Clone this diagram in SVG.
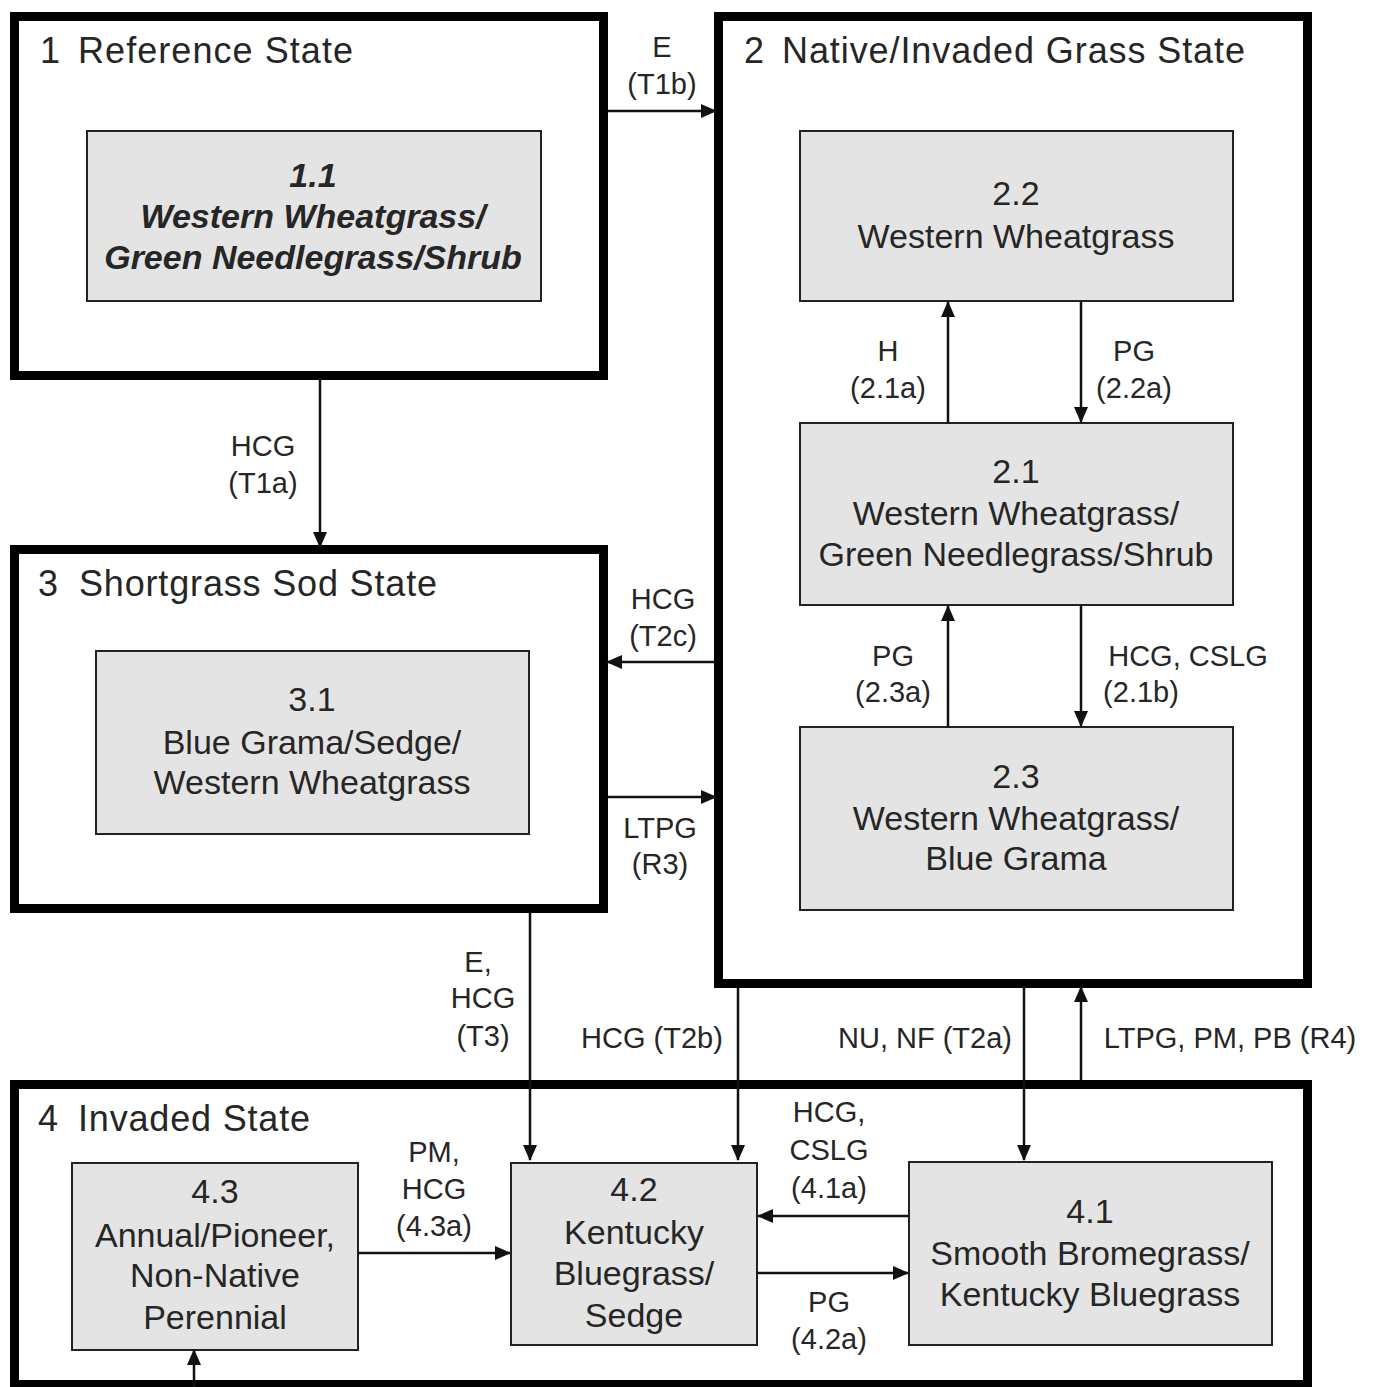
<svg xmlns="http://www.w3.org/2000/svg" width="1380" height="1387" viewBox="0 0 1380 1387">
<style>
.state{fill:#ffffff;stroke:#000;stroke-width:9}
.node{fill:#e4e4e4;stroke:#222;stroke-width:2}
.t{font-family:"Liberation Sans",Arial,sans-serif;fill:#262626}
.title{font-size:36px}
.nt{font-size:34px;text-anchor:middle}
.bi{font-weight:bold;font-style:italic}
.lb{font-size:29px;text-anchor:middle}
.c{fill:none;stroke:#111;stroke-width:2.5}
</style>
<defs>
<marker id="ah" markerUnits="userSpaceOnUse" markerWidth="16" markerHeight="14" refX="15" refY="7" orient="auto">
<path d="M0,0 L16,7 L0,14 Z" fill="#111"/>
</marker>
</defs>
<rect width="1380" height="1387" fill="#fff"/>

<g id="state1">
<rect class="state" x="14.5" y="16.5" width="589" height="359"/>
<text class="t title" x="40" y="63">1</text>
<text class="t title" x="78" y="63" textLength="275" lengthAdjust="spacing">Reference State</text>
</g>
<g id="state2">
<rect class="state" x="718.5" y="16.5" width="589" height="967"/>
<text class="t title" x="744" y="63">2</text>
<text class="t title" x="782" y="63" textLength="463" lengthAdjust="spacing">Native/Invaded Grass State</text>
</g>
<g id="state3">
<rect class="state" x="14.5" y="549.5" width="589" height="359"/>
<text class="t title" x="38" y="596">3</text>
<text class="t title" x="79" y="596" textLength="358" lengthAdjust="spacing">Shortgrass Sod State</text>
</g>
<g id="state4">
<rect class="state" x="14.5" y="1084.5" width="1293" height="300"/>
<text class="t title" x="38" y="1131">4</text>
<text class="t title" x="78" y="1131" textLength="232" lengthAdjust="spacing">Invaded State</text>
</g>

<g id="n11">
<rect class="node" x="87" y="131" width="454" height="170"/>
<text class="t nt bi" x="313" y="187">1.1</text>
<text class="t nt bi" x="313" y="228">Western Wheatgrass/</text>
<text class="t nt bi" x="313" y="269">Green Needlegrass/Shrub</text>
</g>
<g id="n22">
<rect class="node" x="800" y="131" width="433" height="170"/>
<text class="t nt" x="1016" y="205">2.2</text>
<text class="t nt" x="1016" y="248">Western Wheatgrass</text>
</g>
<g id="n21">
<rect class="node" x="800" y="423" width="433" height="182"/>
<text class="t nt" x="1016" y="483">2.1</text>
<text class="t nt" x="1016" y="525">Western Wheatgrass/</text>
<text class="t nt" x="1016" y="566">Green Needlegrass/Shrub</text>
</g>
<g id="n23">
<rect class="node" x="800" y="727" width="433" height="183"/>
<text class="t nt" x="1016" y="788">2.3</text>
<text class="t nt" x="1016" y="830">Western Wheatgrass/</text>
<text class="t nt" x="1016" y="870">Blue Grama</text>
</g>
<g id="n31">
<rect class="node" x="96" y="651" width="433" height="183"/>
<text class="t nt" x="312" y="711">3.1</text>
<text class="t nt" x="312" y="754">Blue Grama/Sedge/</text>
<text class="t nt" x="312" y="794">Western Wheatgrass</text>
</g>
<g id="n43">
<rect class="node" x="72" y="1163" width="286" height="187"/>
<text class="t nt" x="215" y="1203">4.3</text>
<text class="t nt" x="215" y="1247">Annual/Pioneer,</text>
<text class="t nt" x="215" y="1287">Non-Native</text>
<text class="t nt" x="215" y="1329">Perennial</text>
</g>
<g id="n42">
<rect class="node" x="511" y="1163" width="246" height="182"/>
<text class="t nt" x="634" y="1201">4.2</text>
<text class="t nt" x="634" y="1244">Kentucky</text>
<text class="t nt" x="634" y="1285">Bluegrass/</text>
<text class="t nt" x="634" y="1327">Sedge</text>
</g>
<g id="n41">
<rect class="node" x="909" y="1162" width="363" height="183"/>
<text class="t nt" x="1090" y="1223">4.1</text>
<text class="t nt" x="1090" y="1265">Smooth Bromegrass/</text>
<text class="t nt" x="1090" y="1306">Kentucky Bluegrass</text>
</g>

<g id="connectors">
<line class="c" x1="608" y1="111" x2="716" y2="111" marker-end="url(#ah)"/>
<line class="c" x1="320" y1="380" x2="320" y2="547" marker-end="url(#ah)"/>
<line class="c" x1="948" y1="423" x2="948" y2="302" marker-end="url(#ah)"/>
<line class="c" x1="1081" y1="301" x2="1081" y2="422" marker-end="url(#ah)"/>
<line class="c" x1="948" y1="727" x2="948" y2="606" marker-end="url(#ah)"/>
<line class="c" x1="1081" y1="605" x2="1081" y2="726" marker-end="url(#ah)"/>
<line class="c" x1="714" y1="662" x2="607" y2="662" marker-end="url(#ah)"/>
<line class="c" x1="608" y1="797" x2="716" y2="797" marker-end="url(#ah)"/>
<line class="c" x1="530" y1="913" x2="530" y2="1160" marker-end="url(#ah)"/>
<line class="c" x1="738" y1="988" x2="738" y2="1160" marker-end="url(#ah)"/>
<line class="c" x1="1024" y1="988" x2="1024" y2="1160" marker-end="url(#ah)"/>
<line class="c" x1="1081" y1="1080" x2="1081" y2="987" marker-end="url(#ah)"/>
<line class="c" x1="358" y1="1253" x2="510" y2="1253" marker-end="url(#ah)"/>
<line class="c" x1="909" y1="1216" x2="758" y2="1216" marker-end="url(#ah)"/>
<line class="c" x1="757" y1="1273" x2="908" y2="1273" marker-end="url(#ah)"/>
<line class="c" x1="194" y1="1387" x2="194" y2="1350" marker-end="url(#ah)"/>

<text class="t lb" x="662" y="57">E</text>
<text class="t lb" x="662" y="94">(T1b)</text>
<text class="t lb" x="263" y="456">HCG</text>
<text class="t lb" x="263" y="493">(T1a)</text>
<text class="t lb" x="888" y="361">H</text>
<text class="t lb" x="888" y="398">(2.1a)</text>
<text class="t lb" x="1134" y="361">PG</text>
<text class="t lb" x="1134" y="398">(2.2a)</text>
<text class="t lb" x="893" y="666">PG</text>
<text class="t lb" x="893" y="702">(2.3a)</text>
<text class="t lb" x="1188" y="666">HCG, CSLG</text>
<text class="t lb" x="1141" y="702">(2.1b)</text>
<text class="t lb" x="663" y="609">HCG</text>
<text class="t lb" x="663" y="646">(T2c)</text>
<text class="t lb" x="660" y="838">LTPG</text>
<text class="t lb" x="660" y="874">(R3)</text>
<text class="t lb" x="478" y="972">E,</text>
<text class="t lb" x="483" y="1008">HCG</text>
<text class="t lb" x="483" y="1046">(T3)</text>
<text class="t lb" x="652" y="1048">HCG (T2b)</text>
<text class="t lb" x="925" y="1048">NU, NF (T2a)</text>
<text class="t lb" x="1230" y="1048">LTPG, PM, PB (R4)</text>
<text class="t lb" x="434" y="1162">PM,</text>
<text class="t lb" x="434" y="1199">HCG</text>
<text class="t lb" x="434" y="1236">(4.3a)</text>
<text class="t lb" x="829" y="1122">HCG,</text>
<text class="t lb" x="829" y="1160">CSLG</text>
<text class="t lb" x="829" y="1198">(4.1a)</text>
<text class="t lb" x="829" y="1312">PG</text>
<text class="t lb" x="829" y="1349">(4.2a)</text>
</g>
</svg>
